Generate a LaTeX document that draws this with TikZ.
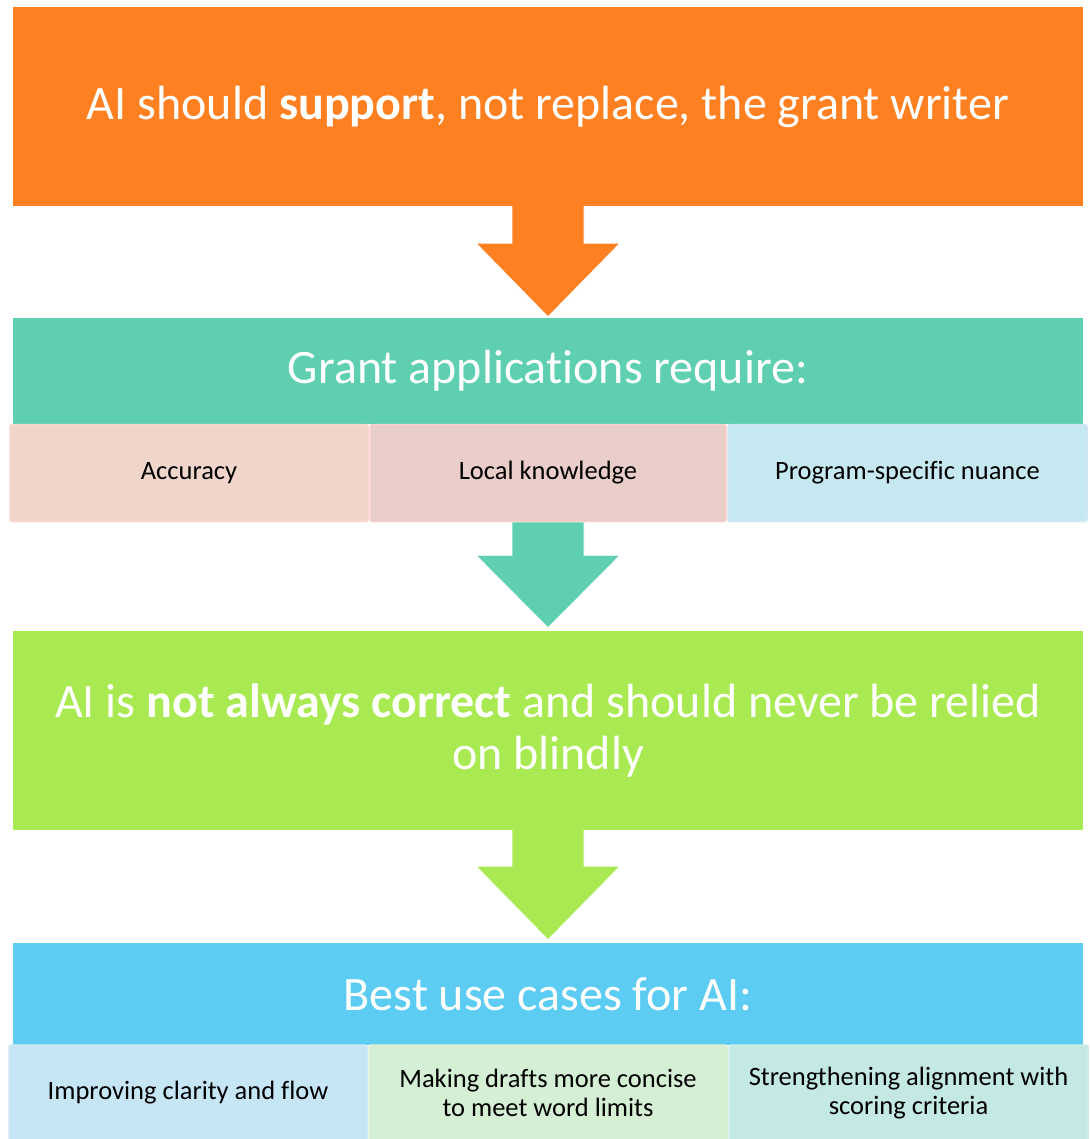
\documentclass[tikz,border=0pt]{standalone}
\usepackage{fontspec}
\setmainfont{Carlito}[Ligatures=NoCommon]
\usetikzlibrary{calc}
\definecolor{cOrange}{HTML}{FF8021}
\definecolor{cTeal}{HTML}{5ECFB1}
\definecolor{cGreen}{HTML}{A9EA52}
\definecolor{cBlue}{HTML}{5DCCF3}
\definecolor{sA}{HTML}{F0D6CA}
\definecolor{sAb}{HTML}{FBD6D0}
\definecolor{sB}{HTML}{E8CDC9}
\definecolor{sBb}{HTML}{F8D0CE}
\definecolor{sC}{HTML}{C6E8F1}
\definecolor{sCb}{HTML}{D2E6F5}
\definecolor{tA}{HTML}{C6E6F6}
\definecolor{tAb}{HTML}{D0E8F6}
\definecolor{tB}{HTML}{D4EFD4}
\definecolor{tBb}{HTML}{DDF0D0}
\definecolor{tC}{HTML}{C4E8E3}
\definecolor{tCb}{HTML}{CFEDE6}
\tikzset{
  bigbox/.style={rectangle, inner sep=0pt, minimum width=1070pt, text=white,
    font=\fontsize{48}{52}\selectfont, align=center},
  subbox/.style={rectangle, inner sep=0pt, line width=1.5pt, rounded corners=2pt,
    text=black, font=\fontsize{26.5}{29}\selectfont, align=center},
  downarrow/.style={draw=white, line width=0.8pt}
}
\begin{document}
\begin{tikzpicture}[x=1pt,y=-1pt]
\useasboundingbox (0,0) rectangle (1089,1139);
\fill[white] (0,0) rectangle (1089,1139);

% boxes
\node[bigbox, fill=cOrange, minimum height=199pt] (top) at (548,106.5)
  {AI should \textbf{support}, not replace, the grant writer};
\node[bigbox, fill=cTeal, minimum height=106pt] (req) at (548,371)
  {Grant applications require:};
\node[subbox, fill=sA, draw=sAb, minimum width=358pt, minimum height=97pt] (acc) at (189,473) {Accuracy};
\node[subbox, fill=sB, draw=sBb, minimum width=356pt, minimum height=97pt] (loc) at (548,473) {Local knowledge};
\node[subbox, fill=sC, draw=sCb, minimum width=359pt, minimum height=97pt] (prog) at (907.5,473) {Program-specific nuance};

\node[bigbox, fill=cGreen, minimum height=199pt] (ai) at (548,730.5)
  {AI is \textbf{not always correct} and should never be relied\\on blindly};

\node[bigbox, fill=cBlue, minimum height=102pt] (best) at (548,994)
  {Best use cases for AI:};
\node[subbox, fill=tA, draw=tAb, minimum width=358pt, minimum height=96pt] (clar) at (188,1093) {Improving clarity and flow};
\node[subbox, fill=tB, draw=tBb, minimum width=358pt, minimum height=96pt] (conc) at (548,1093) {Making drafts more concise\\to meet word limits};
\node[subbox, fill=tC, draw=tCb, minimum width=359pt, minimum height=96pt] (align) at (908.5,1093) {Strengthening alignment with\\scoring criteria};

% arrows
\path[downarrow, fill=cOrange]
  ($(top.south)+(-36,0)$) -- ($(top.south)+(-36,37)$) -- ($(top.south)+(-72,37)$)
  -- ($(req.north)+(0,-1)$) -- ($(top.south)+(72,37)$) -- ($(top.south)+(36,37)$)
  -- ($(top.south)+(36,0)$);
\path[downarrow, fill=cTeal]
  ($(loc.south)+(-36,0)$) -- ($(loc.south)+(-36,33)$) -- ($(loc.south)+(-72,33)$)
  -- ($(ai.north)+(0,-3)$) -- ($(loc.south)+(72,33)$) -- ($(loc.south)+(36,33)$)
  -- ($(loc.south)+(36,0)$);
\path[downarrow, fill=cGreen]
  ($(ai.south)+(-36,0)$) -- ($(ai.south)+(-36,36)$) -- ($(ai.south)+(-72,36)$)
  -- ($(best.north)+(0,-3)$) -- ($(ai.south)+(72,36)$) -- ($(ai.south)+(36,36)$)
  -- ($(ai.south)+(36,0)$);
\end{tikzpicture}
\end{document}
